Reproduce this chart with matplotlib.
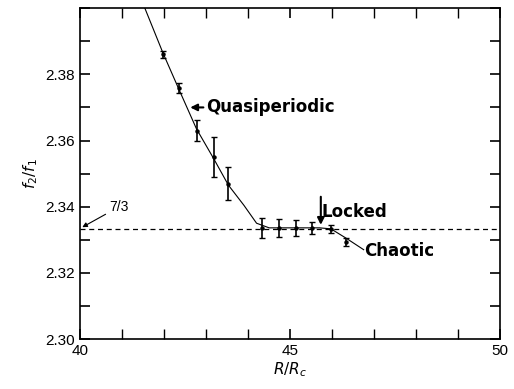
import numpy as np
import matplotlib.pyplot as plt
from matplotlib.ticker import MultipleLocator

# measured points
r_ratio = [41.97, 42.35, 42.77, 43.18, 43.53, 44.34, 44.74, 45.14, 45.52, 45.97, 46.33]
f_ratio = [2.386, 2.376, 2.363, 2.355, 2.347, 2.3336, 2.3336, 2.3336, 2.3336, 2.3333, 2.3293]
f_err = [0.001, 0.0015, 0.0033, 0.006, 0.005, 0.003, 0.0027, 0.0025, 0.0018, 0.0012, 0.0012]

# hand-drawn guide curve
curve_x = [41.54, 41.97, 42.35, 42.77, 43.18, 43.53, 43.9, 44.2, 44.5, 45.0, 45.7, 45.97, 46.33, 46.75]
curve_y = [2.400, 2.3865, 2.3755, 2.3635, 2.3545, 2.3465, 2.3404, 2.3350, 2.3336, 2.3336, 2.3336, 2.3333, 2.3305, 2.327]

locked = 7 / 3

plt.rcParams['font.family'] = ['Liberation Sans', 'DejaVu Sans']

fig = plt.figure(figsize=(5.14, 3.89), dpi=100)
ax = fig.add_axes([0.156, 0.1285, 0.817, 0.8505])

ax.plot(curve_x, curve_y, color='black', lw=0.8)
ax.axhline(locked, color='black', lw=0.9, ls=(0, (4, 3)))
ax.errorbar(r_ratio, f_ratio, yerr=f_err, fmt='o', ms=2.2, color='black',
            ecolor='black', elinewidth=1.2, capsize=2, capthick=1)

ax.set_xlim(40, 50)
ax.set_ylim(2.30, 2.40)
ax.set_xticks([40, 45, 50])
ax.xaxis.set_minor_locator(MultipleLocator(1))
ax.set_yticks([2.30, 2.32, 2.34, 2.36, 2.38])
ax.yaxis.set_minor_locator(MultipleLocator(0.01))
ax.tick_params(which='both', direction='in', top=True, right=True, labelsize=11)
ax.tick_params(which='major', length=7, width=1.2)
ax.tick_params(which='minor', length=7, width=1)
ax.tick_params(axis='y', which='minor', length=7, width=1.2)
for s in ax.spines.values():
    s.set_linewidth(1.2)

ax.set_xlabel('$R/R_c$', fontsize=11, labelpad=2)
ax.set_ylabel('$f_2/f_1$', fontsize=11, labelpad=4)

ax.annotate('Quasiperiodic', xy=(42.62, 2.370), xytext=(43.0, 2.370),
            fontsize=12, fontweight='bold', family='DejaVu Sans', va='center',
            arrowprops=dict(arrowstyle='-|>', color='black', lw=1.5, mutation_scale=10,
                            shrinkA=0, shrinkB=0))
ax.annotate('', xy=(45.73, 2.3345), xytext=(45.73, 2.343),
            arrowprops=dict(arrowstyle='-|>', color='black', lw=1.5, mutation_scale=10,
                            shrinkA=0, shrinkB=0))
ax.text(45.75, 2.3385, 'Locked', fontsize=12, fontweight='bold', family='DejaVu Sans',
        va='center', ha='left')
ax.text(46.75, 2.3265, 'Chaotic', fontsize=12, fontweight='bold', family='DejaVu Sans',
        va='center', ha='left')
ax.annotate('7/3', xy=(40.05, 2.3338), xytext=(40.7, 2.340),
            fontsize=10, va='center', ha='left',
            arrowprops=dict(arrowstyle='-|>', color='black', lw=0.8, mutation_scale=7,
                            shrinkA=1, shrinkB=0))

fig.savefig('out.png', dpi=100)
